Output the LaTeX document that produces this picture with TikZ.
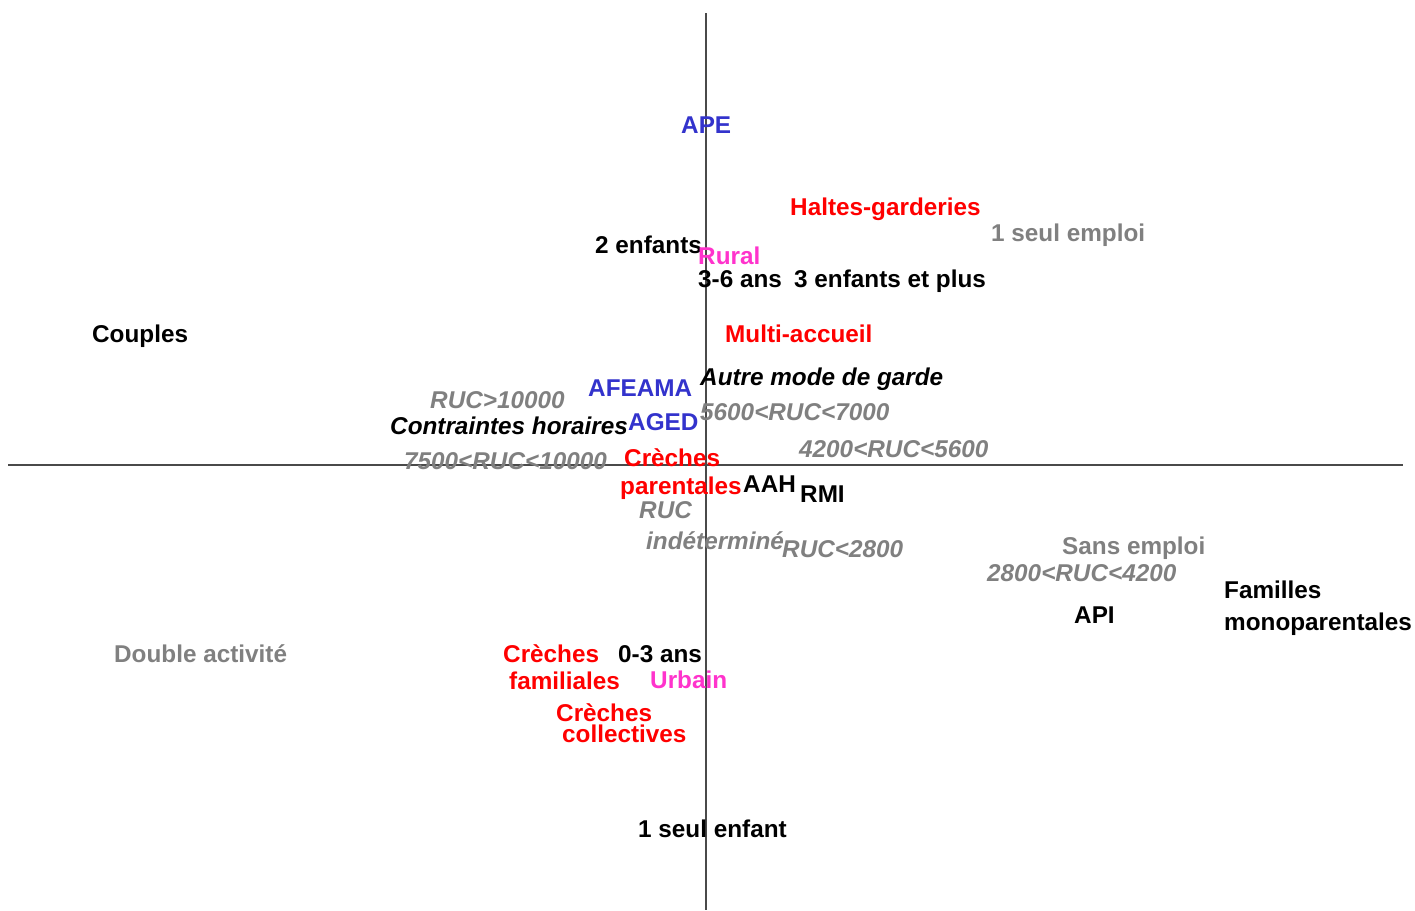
\documentclass[tikz,border=0pt]{standalone}
\usepackage{fontspec}
\setmainfont{Liberation Sans}
\definecolor{cblue}{HTML}{3333CC}
\definecolor{cred}{HTML}{FF0000}
\definecolor{cgray}{HTML}{808080}
\definecolor{cmag}{HTML}{FF33CC}
\definecolor{caxis}{HTML}{4A4A4A}
\begin{document}
\begin{tikzpicture}[x=1pt,y=-1pt,
  lab/.style={inner sep=0pt,anchor=base west,font=\fontsize{24.3}{28}\selectfont\bfseries},
  it/.style={lab,font=\fontsize{24.3}{28}\selectfont\bfseries\itshape},
  axis/.style={draw=caxis,line width=1.3pt}]
\useasboundingbox (0,0) rectangle (1415,910);
\coordinate (hl) at (8,465); \coordinate (hr) at (1403,465);
\coordinate (vt) at (706,13); \coordinate (vb) at (706,910);
\draw[axis] (hl) -- (hr);
\draw[axis] (vt) -- (vb);
\begin{scope}[yshift=1pt]
\node[lab,cblue] (ape) at (681,134) {APE};
\node[lab,cred] (halte) at (790,216) {Haltes-garderies};
\node[lab,cgray] (emploi1) at (991,242) {1 seul emploi};
\node[lab] (enf2) at (595,254) {2 enfants};
\node[lab,cmag] (rural) at (698,265) {Rural};
\node[lab] (a36) at (698,288) {3-6 ans};
\node[lab] (enf3) at (794,288) {3 enfants et plus};
\node[lab] (couples) at (92,343) {Couples};
\node[lab,cred] (multi) at (725,343) {Multi-accueil};
\node[it] (autre) at (700,386) {Autre mode de garde};
\node[lab,cblue] (afeama) at (588,397) {AFEAMA};
\node[it,cgray] (r10000) at (430,409) {RUC>10000};
\node[it,cgray] (r5600) at (700,421) {5600<RUC<7000};
\node[it] (contr) at (390,435) {Contraintes horaires};
\node[lab,cblue] (aged) at (628,431) {AGED};
\node[it,cgray] (r4200) at (799,458) {4200<RUC<5600};
\node[it,cgray] (r7500) at (404,470) {7500<RUC<10000};
\node[lab,cred] (crp1) at (624,467) {Crèches};
\node[lab,cred] (crp2) at (620,495) {parentales};
\node[lab] (aah) at (743,493) {AAH};
\node[lab] (rmi) at (800,503) {RMI};
\node[it,cgray] (ruci1) at (639,519) {RUC};
\node[it,cgray] (ruci2) at (646,550) {indéterminé};
\node[it,cgray] (r2800) at (782,558) {RUC<2800};
\node[lab,cgray] (sans) at (1062,555) {Sans emploi};
\node[it,cgray] (r28004200) at (987,582) {2800<RUC<4200};
\node[lab] (fam1) at (1224,599) {Familles};
\node[lab] (fam2) at (1224,631) {monoparentales};
\node[lab] (api) at (1074,624) {API};
\node[lab,cgray] (double) at (114,663) {Double activité};
\node[lab,cred] (crf1) at (503,663) {Crèches};
\node[lab] (a03) at (618,663) {0-3 ans};
\node[lab,cred] (crf2) at (509,690) {familiales};
\node[lab,cmag] (urbain) at (650,689) {Urbain};
\node[lab,cred] (crc1) at (556,722) {Crèches};
\node[lab,cred] (crc2) at (562,743) {collectives};
\node[lab] (enf1) at (638,838) {1 seul enfant};
\end{scope}
\end{tikzpicture}
\end{document}
